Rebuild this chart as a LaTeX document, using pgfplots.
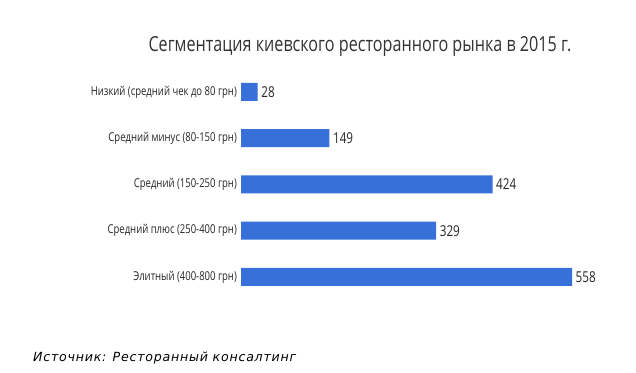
\documentclass[border=0pt]{standalone}
\usepackage{fontspec}
\setmainfont{Open Sans}
\newfontfamily\cond{Open Sans}[FakeStretch=0.78]
\newfontfamily\src{DejaVu Sans}[LetterSpace=6]
\usepackage{pgfplots}
\pgfplotsset{compat=1.18}
\definecolor{barblue}{HTML}{3670D8}
\definecolor{txt}{HTML}{333333}
\begin{document}
\begin{tikzpicture}[x=1pt,y=1pt]
\path[use as bounding box, fill=white] (0,0) rectangle (636,372);
\begin{axis}[
  at={(241pt,71.9pt)}, anchor=south west,
  scale only axis, width=331pt, height=231.25pt,
  xmin=0, xmax=558, ymin=-0.5, ymax=4.5, y dir=reverse,
  axis line style={draw=none}, hide x axis,
  major tick length=0pt,
  ytick={0,1,2,3,4},
  yticklabels={Низкий (средний чек до 80 грн),Средний минус (80-150 грн),Средний (150-250 грн),Средний плюс (250-400 грн),Элитный (400-800 грн)},
  yticklabel style={font=\cond\fontsize{12.2}{13}\selectfont, text=black!85, inner sep=0pt, xshift=-4pt},
  xbar, bar width=18pt,
  nodes near coords,
  nodes near coords style={font=\cond\fontsize{15}{16}\selectfont, text=black!85, anchor=west, inner sep=0pt, xshift=3.5pt, /pgf/number format/assume math mode=true},
  point meta=x,
  clip=false,
]
\addplot[fill=barblue, draw=none] coordinates {(28,0) (149,1) (424,2) (329,3) (558,4)};
\end{axis}
\node[font=\cond\fontsize{20.7}{22}\selectfont, text=txt] at (360,326) {Сегментация киевского ресторанного рынка в 2015 г.};
\node[font=\src\itshape\fontsize{12.6}{14}\selectfont, anchor=west, inner sep=0pt] at (33,14) {Источник: Ресторанный консалтинг};
\end{tikzpicture}
\end{document}
